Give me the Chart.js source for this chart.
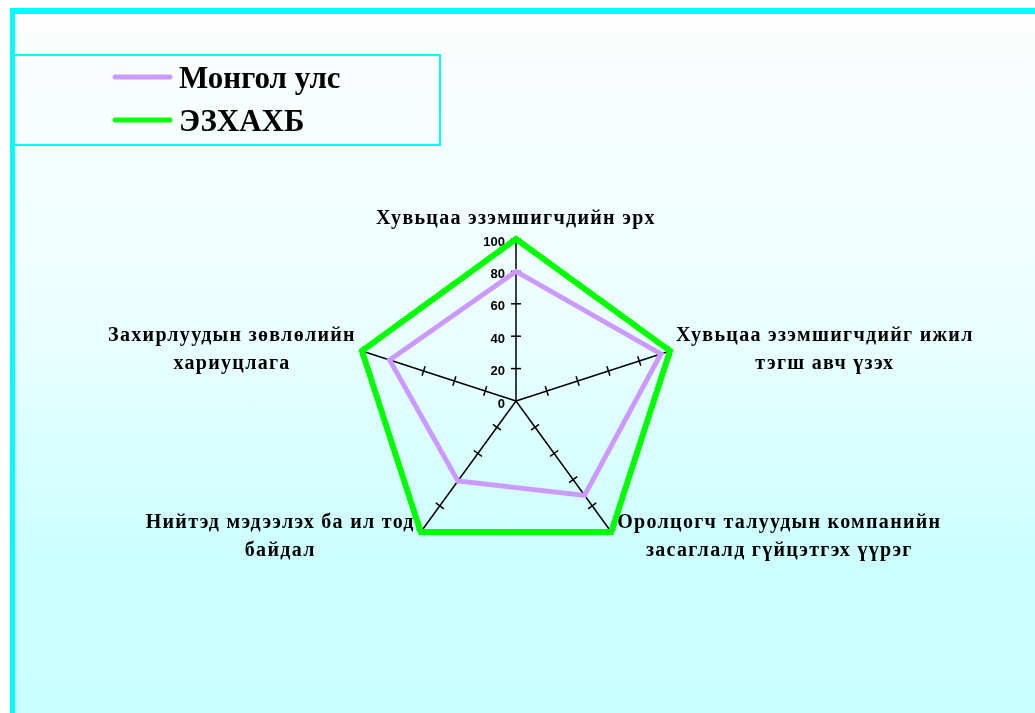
<!DOCTYPE html>
<html>
<head>
<meta charset="utf-8">
<script src="https://cdn.jsdelivr.net/npm/chart.js@4.4.1/dist/chart.umd.min.js"></script>
<style>
  html, body { margin: 0; padding: 0; background: #fff; }
  #frame {
    position: absolute; left: 10px; top: 8px; width: 1020px; height: 699px;
    border-top: 6px solid #00ffff; border-left: 5px solid #00ffff;
    background: linear-gradient(to bottom, #fdfdfd 0%, #eaffff 45%, #ccffff 78%, #c8ffff 100%);
  }
  #chart { position: absolute; left: 0; top: 0; }
</style>
</head>
<body>
<div id="frame"></div>
<canvas id="chart" width="1035" height="713"></canvas>
<script>
// categories around the radar, clockwise from the top
const categories = [
  "Хувьцаа эзэмшигчдийн эрх",
  ["Хувьцаа эзэмшигчдийг ижил", "тэгш авч үзэх"],
  ["Оролцогч талуудын компанийн", "засаглалд гүйцэтгэх үүрэг"],
  ["Нийтэд мэдээлэх ба ил тод", "байдал"],
  ["Захирлуудын зөвлөлийн", "хариуцлага"]
];
const seriesNames = ["Монгол улс", "ЭЗХАХБ"];
const mongoliaValues = [80, 94, 72, 61, 82];
const oecdValues = [100, 100, 100, 100, 100];
const tickValues = [0, 20, 40, 60, 80, 100];

const labelFont = 'bold 20px "Liberation Serif", "Times New Roman", serif';

// tick marks across each spoke, value labels on the top spoke, category labels
const spokeTicks = {
  id: "spokeTicks",
  beforeDatasetsDraw(chart) {
    const ctx = chart.ctx;
    const scale = chart.scales.r;
    ctx.save();
    ctx.strokeStyle = "#000";
    ctx.lineWidth = 1.5;
    categories.forEach((c, i) => {
      const ang = scale.getIndexAngle(i) - Math.PI / 2;
      const px = -Math.sin(ang), py = Math.cos(ang);
      tickValues.forEach(v => {
        if (!v) return;
        const p = scale.getPointPosition(i, scale.getDistanceFromCenterForValue(v));
        ctx.beginPath();
        ctx.moveTo(p.x - px * 5, p.y - py * 5);
        ctx.lineTo(p.x + px * 5, p.y + py * 5);
        ctx.stroke();
      });
    });

    ctx.fillStyle = "#000";
    ctx.font = 'bold 13px "Liberation Sans", Arial, sans-serif';
    ctx.textAlign = "right";
    ctx.textBaseline = "middle";
    tickValues.forEach(v => {
      const d = scale.getDistanceFromCenterForValue(v);
      ctx.fillText(String(v), scale.xCenter - 11, scale.yCenter - d + 3);
    });

    ctx.font = labelFont;
    ctx.letterSpacing = "1.3px";
    const lh = 28;
    categories.forEach((lab, i) => {
      const lines = Array.isArray(lab) ? lab : [lab];
      const p = scale.getPointPosition(i, scale.drawingArea);
      const dx = p.x - scale.xCenter;
      const bw = Math.max(...lines.map(l => ctx.measureText(l).width));
      let left, top;
      if (Math.abs(dx) < 1) {
        left = p.x - bw / 2;
        top = p.y - 6 - lines.length * lh;
      } else {
        left = dx > 0 ? p.x + 6 : p.x - 6 - bw;
        top = p.y - lines.length * lh / 2 + (p.y > scale.yCenter ? 5 : -1);
      }
      ctx.textAlign = "center";
      lines.forEach((l, k) => ctx.fillText(l, left + bw / 2, top + lh * k + lh / 2));
    });
    ctx.restore();
  }
};

// boxed legend in the upper left
const boxLegend = {
  id: "boxLegend",
  afterDraw(chart) {
    const ctx = chart.ctx;
    ctx.save();
    ctx.strokeStyle = "#00ffff";
    ctx.lineWidth = 2;
    ctx.strokeRect(11, 55, 429, 90);
    ctx.font = 'bold 31px "Liberation Serif", "Times New Roman", serif';
    ctx.textAlign = "left";
    ctx.textBaseline = "alphabetic";
    chart.data.datasets.forEach((ds, i) => {
      const y = 77 + i * 43;
      ctx.strokeStyle = ds.borderColor;
      ctx.lineWidth = 5;
      ctx.lineCap = "round";
      ctx.beginPath();
      ctx.moveTo(115, y);
      ctx.lineTo(170, y);
      ctx.stroke();
      ctx.fillStyle = "#000";
      ctx.fillText(ds.label, 179, y + 11);
    });
    ctx.restore();
  }
};

new Chart(document.getElementById("chart").getContext("2d"), {
  type: "radar",
  data: {
    labels: categories,
    datasets: [
      { label: seriesNames[0], data: mongoliaValues, borderColor: "#cc99ff", borderWidth: 5, fill: false },
      { label: seriesNames[1], data: oecdValues, borderColor: "#00ff00", borderWidth: 6, fill: false }
    ]
  },
  options: {
    responsive: false,
    animation: false,
    devicePixelRatio: 1,
    layout: { padding: { left: 354, right: 357, top: 239, bottom: 150 } },
    elements: {
      point: { radius: 0, hoverRadius: 0 },
      line: { tension: 0, borderJoinStyle: "miter" }
    },
    scales: {
      r: {
        min: 0,
        max: 100,
        ticks: { stepSize: 20, display: false },
        grid: { display: false },
        angleLines: { display: true, color: "#000", lineWidth: 1.5 },
        pointLabels: { display: false }
      }
    },
    plugins: {
      legend: { display: false },
      tooltip: { enabled: false }
    }
  },
  plugins: [spokeTicks, boxLegend]
});
</script>
</body>
</html>
